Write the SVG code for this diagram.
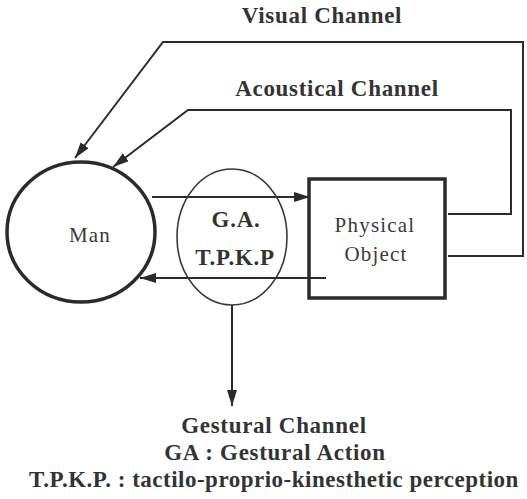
<svg xmlns="http://www.w3.org/2000/svg" width="527" height="499" viewBox="0 0 527 499">
<style>
.ln{fill:none;stroke:#2b2b2b;stroke-width:2}
.b{font-family:"Liberation Serif","Times New Roman","Noto Serif","DejaVu Serif",serif;font-weight:bold;font-size:23px;letter-spacing:0.7px;fill:#333;text-anchor:middle}
.r{font-family:"Liberation Serif","Times New Roman","Noto Serif","DejaVu Serif",serif;font-size:21px;letter-spacing:1.2px;fill:#3a3a3a;text-anchor:middle}
</style>
<defs>
<marker id="ah" viewBox="0 0 16 10" refX="16" refY="5" markerWidth="16" markerHeight="10" markerUnits="userSpaceOnUse" orient="auto">
<path d="M0,0 L16,5 L0,10 Z" fill="#2b2b2b"/>
</marker>
</defs>
<rect width="527" height="499" fill="#fff"/>
<g id="connectors">
<path class="ln" d="M448,256 H523 V42 H163 L75,158" marker-end="url(#ah)"/>
<path class="ln" d="M448,214 H511 V110 H188 L113,167" marker-end="url(#ah)"/>
<line class="ln" x1="152" y1="197" x2="310" y2="197" marker-end="url(#ah)"/>
<line class="ln" x1="326" y1="278" x2="140" y2="278" marker-end="url(#ah)"/>
<line class="ln" x1="232" y1="305" x2="232" y2="406" marker-end="url(#ah)"/>
</g>
<g id="labels">
<text class="b" x="322" y="23">Visual Channel</text>
<text class="b" x="337" y="96">Acoustical Channel</text>
<text class="b" x="274" y="433">Gestural Channel</text>
<text class="b" x="275" y="460">GA : Gestural Action</text>
<text class="b" x="274" y="487" style="letter-spacing:0.5px">T.P.K.P. : tactilo-proprio-kinesthetic perception</text>
</g>
<g id="man">
<ellipse cx="81" cy="232" rx="74" ry="70" fill="none" stroke="#2b2b2b" stroke-width="3.5"/>
<text class="r" x="90" y="242">Man</text>
</g>
<g id="gesture">
<ellipse cx="232" cy="237" rx="55" ry="68" fill="none" stroke="#3a3a3a" stroke-width="1.6"/>
<text class="b" x="236" y="227">G.A.</text>
<text class="b" x="235" y="265">T.P.K.P</text>
</g>
<g id="object">
<rect x="309" y="179" width="136" height="119" fill="none" stroke="#2b2b2b" stroke-width="3.5"/>
<text class="r" x="375" y="232">Physical</text>
<text class="r" x="376" y="261">Object</text>
</g>
</svg>
